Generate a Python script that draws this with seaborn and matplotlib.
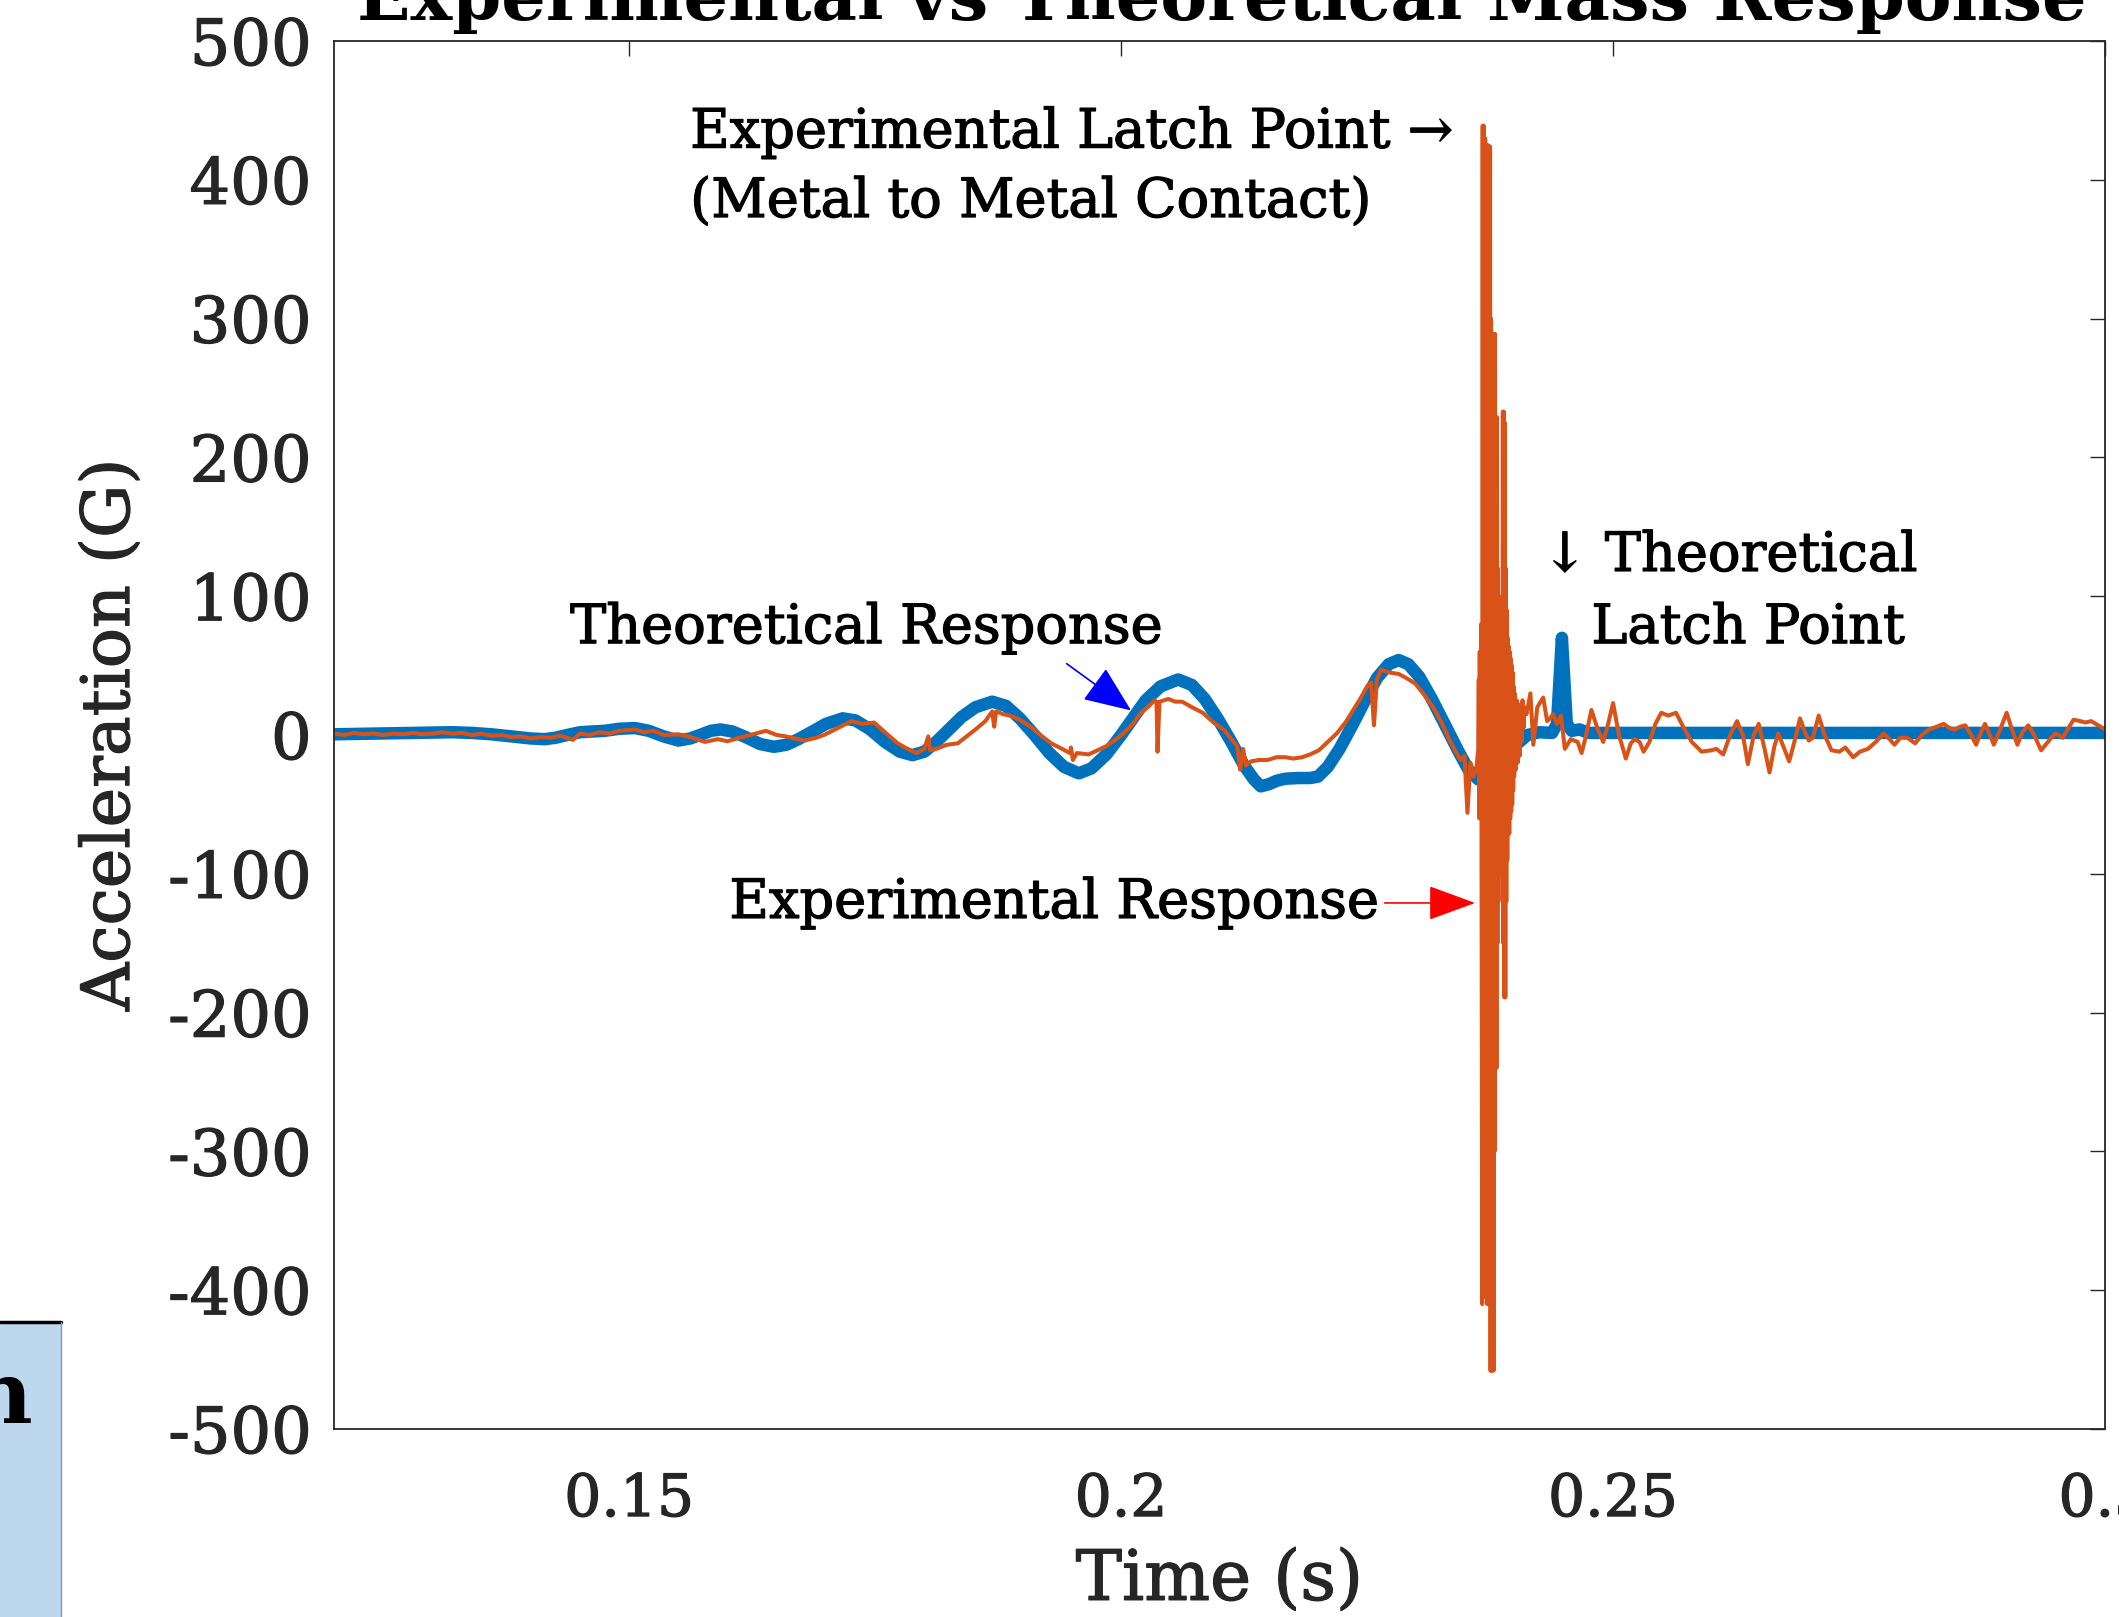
import numpy as np
import pandas as pd
import matplotlib
matplotlib.use("Agg")
import matplotlib.pyplot as plt
import matplotlib.patheffects as pe
import seaborn as sns
from matplotlib.patches import Rectangle

# ---- data ----
theo_t = [0.1200, 0.1240, 0.1280, 0.1320, 0.1340, 0.1360, 0.1380, 0.1400, 0.1414, 0.1425,
          0.1437, 0.1450, 0.1462, 0.1475, 0.1490, 0.1506, 0.1520, 0.1535, 0.1550, 0.1562,
          0.1572, 0.1583, 0.1593, 0.1605, 0.1620, 0.1633, 0.1647, 0.1660, 0.1672, 0.1685,
          0.1700, 0.1717, 0.1730, 0.1745, 0.1760, 0.1775, 0.1788, 0.1800, 0.1812, 0.1825,
          0.1838, 0.1852, 0.1869, 0.1883, 0.1897, 0.1912, 0.1927, 0.1942, 0.1957, 0.1970,
          0.1985, 0.2000, 0.2013, 0.2025, 0.2040, 0.2058, 0.2072, 0.2085, 0.2098, 0.2112,
          0.2125, 0.2135, 0.2142, 0.2150, 0.2158, 0.2167, 0.2180, 0.2192, 0.2200, 0.2210,
          0.2222, 0.2235, 0.2248, 0.2260, 0.2272, 0.2282, 0.2292, 0.2303, 0.2315, 0.2328,
          0.2342, 0.2353, 0.2363, 0.2373, 0.2383, 0.2393, 0.2403, 0.2413, 0.2425, 0.2438,
          0.2443, 0.2448, 0.2453, 0.2458, 0.2466, 0.2475, 0.3000]
theo_g = [0.5, 1, 1.5, 2, 1.5, 0.5, -1, -2.5, -3, -2,
          0, 2, 2.5, 3, 4.5, 5, 3, -1, -4, -2.5,
          0, 3, 4, 2.5, -2, -6.5, -8.5, -7, -3, 2,
          8, 12, 10.5, 4, -5, -12, -14.5, -12, -5, 4,
          13, 20, 24, 21, 12, 0, -13, -23, -27.6, -24,
          -14, 0, 13, 25, 35, 40, 36, 26, 12, -5,
          -22, -32, -37, -35.5, -33, -31.5, -31, -31, -30, -23,
          -10, 7, 25, 41, 51, 54, 51, 42, 27, 9,
          -10.6, -25, -32, -33, -27, -16, -6, 0, 2, 1.5,
          8, 70, 8, 3, 4, 1.5, 1.5]

exp_t = [0.1200, 0.1210, 0.1220, 0.1230, 0.1240, 0.1250, 0.1260, 0.1270, 0.1280, 0.1290,
         0.1300, 0.1310, 0.1320, 0.1330, 0.1340, 0.1350, 0.1360, 0.1370, 0.1380, 0.1390,
         0.1400, 0.1410, 0.1420, 0.1430, 0.1443, 0.1450, 0.1460, 0.1470, 0.1480, 0.1490,
         0.1506, 0.1515, 0.1525, 0.1535, 0.1550, 0.1560, 0.1577, 0.1590, 0.1600, 0.1612,
         0.1623, 0.1639, 0.1650, 0.1659, 0.1678, 0.1690, 0.1698, 0.1712, 0.1726, 0.1737,
         0.1749, 0.1760, 0.1773, 0.1783, 0.1792, 0.1800, 0.1804, 0.1806, 0.1812, 0.1823,
         0.1834, 0.1843, 0.1852, 0.1862, 0.1869, 0.1871, 0.1873, 0.1880, 0.1887, 0.1897,
         0.1908, 0.1918, 0.1929, 0.1940, 0.1948, 0.1949, 0.1951, 0.1955, 0.1967, 0.1976,
         0.1985, 0.1995, 0.2002, 0.2012, 0.2020, 0.2027, 0.2034, 0.2036, 0.2037, 0.2039,
         0.2048, 0.2055, 0.2062, 0.2072, 0.2083, 0.2094, 0.2104, 0.2111, 0.2118, 0.2121,
         0.2124, 0.2127, 0.2132, 0.2140, 0.2149, 0.2158, 0.2167, 0.2175, 0.2184, 0.2192,
         0.2201, 0.2210, 0.2219, 0.2228, 0.2236, 0.2243, 0.2250, 0.2254, 0.2257, 0.2260,
         0.2264, 0.2273, 0.2282, 0.2290, 0.2299, 0.2308, 0.2317, 0.2325, 0.2334, 0.2340,
         0.2345, 0.2349, 0.2352, 0.2355, 0.2358, 0.2361, 0.2363,
         # latch impact burst
         0.23635, 0.2364, 0.23645, 0.2365, 0.2366, 0.2367, 0.23675, 0.2368, 0.23685, 0.2369,
         0.2370, 0.2371, 0.23715, 0.2372, 0.23725, 0.2373, 0.2374, 0.23745, 0.2375, 0.23755,
         0.2376, 0.23765, 0.2377, 0.23775, 0.2378, 0.23785, 0.2379, 0.23795, 0.2380, 0.23805,
         0.2381, 0.23815, 0.2382, 0.23825, 0.2383, 0.23835, 0.2384, 0.23845, 0.2385, 0.23855,
         0.2386, 0.23865, 0.2387, 0.23875, 0.2388, 0.23885, 0.2389, 0.23895, 0.2390, 0.23905,
         0.2391, 0.23915, 0.2392, 0.23925, 0.2393, 0.23935, 0.2394, 0.23945, 0.2395, 0.23955,
         0.2396, 0.23965, 0.2397, 0.23975, 0.2398, 0.23985, 0.2399, 0.23995, 0.2400, 0.2401,
         0.2402, 0.2403, 0.2404, 0.2405, 0.2406, 0.2407, 0.2408, 0.2409, 0.2410,
         # settling tail
         0.2412, 0.2416, 0.2419, 0.2423, 0.2429, 0.2433, 0.2436, 0.2439, 0.2443, 0.2447,
         0.2451, 0.2457, 0.2464, 0.2468, 0.2472, 0.2478, 0.2484, 0.2490, 0.2495, 0.2500,
         0.2506, 0.2513, 0.2518, 0.2522, 0.2527, 0.2531, 0.2537, 0.2543, 0.2549, 0.2556,
         0.2564, 0.2572, 0.2580, 0.2590, 0.2600, 0.2605, 0.2612, 0.2619, 0.2626, 0.2632,
         0.2637, 0.2643, 0.2648, 0.2654, 0.2659, 0.2664, 0.2668, 0.2674, 0.2679, 0.2685,
         0.2690, 0.2695, 0.2699, 0.2703, 0.2709, 0.2715, 0.2722, 0.2730, 0.2736, 0.2744,
         0.2751, 0.2759, 0.2767, 0.2775, 0.2781, 0.2786, 0.2792, 0.2799, 0.2807, 0.2814,
         0.2821, 0.2829, 0.2836, 0.2842, 0.2847, 0.2853, 0.2858, 0.2864, 0.2869, 0.2874,
         0.2878, 0.2883, 0.2887, 0.2894, 0.2900, 0.2905, 0.2911, 0.2916, 0.2922, 0.2928,
         0.2935, 0.2942, 0.2949, 0.2953, 0.2957, 0.2962, 0.2968, 0.2975, 0.2980, 0.2986,
         0.2993, 0.3000]
exp_g = [1, 0, 1.5, 0.5, 1, 0, 1, 0.5, 1.5, 0.5,
         1, 2, 1, 1.5, 0, 1, -0.5, 0, -1.5, -1,
         -2.5, -1.5, -2, -0.5, -3.5, 1, 0, 2, 1, 3,
         4, 2, 3, 0, 0.5, -1, -5, -3, -4.5, -2,
         0, 3, 0, -1, -4, -2, 0, 5, 10, 8,
         9, 2, -6, -10, -13, -10, -1, -11, -10, -7,
         -6, -1, 4, 10, 17, 6, 17, 15, 14, 11,
         6, 0, -6, -10, -13, -9, -18, -13, -14, -11,
         -8, -3, 1, 8, 16, 20, 25, 24, -12, 24,
         26, 24, 24, 20, 16, 9, 4, -2, -8, -25,
         -10, -22, -19, -18, -18, -16, -16, -17, -16, -14,
         -11, -5, 1, 9, 18, 26, 35, 38, 7, 40,
         47, 45, 44, 41, 37, 29, 20, 10, -4, -12,
         -18, -15, -56, -20, -30, -25, -10,
         40, -60, 60, -40, 80, -410, 439, -405, 439, -380,
         430, -300, 425, -410, 425, -350, 424, -200, 424, -458,
         300, -458, 250, -455, 200, -458, 289, -300, 289, -240,
         180, -240, 229, -150, 120, -120, 100, -100, 80, -80,
         60, -70, 50, -80, 233, -150, 233, -189, 225, -189,
         120, -120, 90, -90, 70, -70, 64, -71, 60, -60,
         55, -55, 50, -50, 45, -40, 35, -30, 30, -25,
         25, -20, 22, -15, 20, -5, 25, 5, 20,
         15, 30, -7, 20, 27, 10, 12, 15, 8, 14,
         -10, -3, -5, -13, -2, 18, 5, -5, 8, 23,
         0, -17, -6, -3, -5, -12, -5, 8, 16, 14,
         16, 5, -5, -12, -11, -10, -14, 0, 10, 0,
         -21, 0, 8, -10, -27, -8, 1, -10, -19, -3,
         12, 2, -4, -2, 14, 0, -11, -12, -9, -16,
         -12, -10, -5, 1, -3, -7, -2, -2, -6, 0,
         4, 6, 8, 5, 4, 6, 7, 0, -7, 2,
         8, 0, -7, 5, 16, 5, -7, 2, 7, 0,
         -11, -5, 1, 0, -2, 4, 11, 10, 9, 10,
         7, 4]

y_ticks = [500, 400, 300, 200, 100, 0, -100, -200, -300, -400, -500]
x_ticks = [0.15, 0.2, 0.25, 0.3]
x_tick_labels = ['0.15', '0.2', '0.25', '0.3']

theo = pd.DataFrame({'t': theo_t, 'g': theo_g})
expm = pd.DataFrame({'t': exp_t, 'g': exp_g})

sns.set_theme(style='white')
plt.rcParams['font.family'] = ['DejaVu Serif']

W, H = 2119, 1617
fig = plt.figure(figsize=(W / 100, H / 100), dpi=100)
ax = fig.add_axes([334 / W, 1 - 1429 / H, (2105 - 334) / W, (1429 - 41) / H])

sns.lineplot(data=theo, x='t', y='g', ax=ax, color='#0072BD', lw=9,
             sort=False, estimator=None, solid_joinstyle='round', solid_capstyle='round')
sns.lineplot(data=expm, x='t', y='g', ax=ax, color='#D95319', lw=2.9,
             sort=False, estimator=None)

ax.set_xlim(0.12, 0.30)
ax.set_ylim(-500, 500)
ax.set_xticks(x_ticks)
ax.set_xticklabels(x_tick_labels)
ax.set_yticks(y_ticks)
ax.set_yticklabels([str(v) for v in y_ticks])
ax.tick_params(direction='in', length=11, width=1.0, colors='#262626',
               top=True, right=True)
ax.tick_params(axis='x', pad=31, labelsize=42)
ax.tick_params(axis='y', pad=16, labelsize=46)
for s in ax.spines.values():
    s.set_color('#262626')
    s.set_linewidth(1.3)

ax.set_xlabel('Time (s)', fontsize=50, color='#262626', labelpad=14)
ax.set_ylabel('Acceleration (G)', fontsize=48, color='#262626', labelpad=18)

# slightly heavier strokes, closer to the reference's serif face
heavy_grey = [pe.withStroke(linewidth=0.9, foreground='#262626')]
heavy_black = [pe.withStroke(linewidth=0.9, foreground='black')]
for lab in ax.get_xticklabels() + ax.get_yticklabels() + [ax.xaxis.label, ax.yaxis.label]:
    lab.set_path_effects(heavy_grey)

fig.text(0.5765, 1 - 20 / H, 'Experimental vs Theoretical Mass Response',
         ha='center', va='baseline', fontsize=50.5, fontweight='bold', color='black')

# annotations
txt = dict(fontsize=39, color='black', path_effects=heavy_black)
ax.text(0.1562, 434, 'Experimental Latch Point \u2192', va='center', **txt)
ax.text(0.1562, 384, '(Metal to Metal Contact)', va='center', **txt)
ax.text(0.1440, 77, 'Theoretical Response', va='center', **txt)
ax.text(0.2262, -121, 'Experimental Response', va='center', ha='right', **txt)
ax.text(0.2428, 129, '\u2193 Theoretical', va='center', **txt)
ax.text(0.2478, 77, 'Latch Point', va='center', **txt)

ax.annotate('', xy=(0.20124, 16.5), xytext=(0.19423, 52.6),
            arrowprops=dict(arrowstyle='-|>,head_length=0.6,head_width=0.25',
                            color='blue', lw=1.2, mutation_scale=50))
ax.annotate('', xy=(0.23626, -121), xytext=(0.22651, -121),
            arrowprops=dict(arrowstyle='-|>,head_length=0.6,head_width=0.22',
                            color='red', lw=1.2, mutation_scale=50))

# clipped side panel at bottom-left
fig.patches.append(Rectangle((0, 0), 61 / W, (H - 1322) / H, transform=fig.transFigure,
                             facecolor='#BDD7EE', edgecolor='none', zorder=0))
fig.add_artist(plt.Line2D([0, 61 / W], [(H - 1322) / H] * 2, color='black', lw=2.5))
fig.add_artist(plt.Line2D([61 / W] * 2, [0, (H - 1322) / H], color='#8497B0', lw=1))
fig.text(33 / W, 1 - 1423 / H, 'n', ha='right', va='baseline', fontsize=62,
         fontweight='bold', color='black')

fig.savefig('out.png', dpi=100)
